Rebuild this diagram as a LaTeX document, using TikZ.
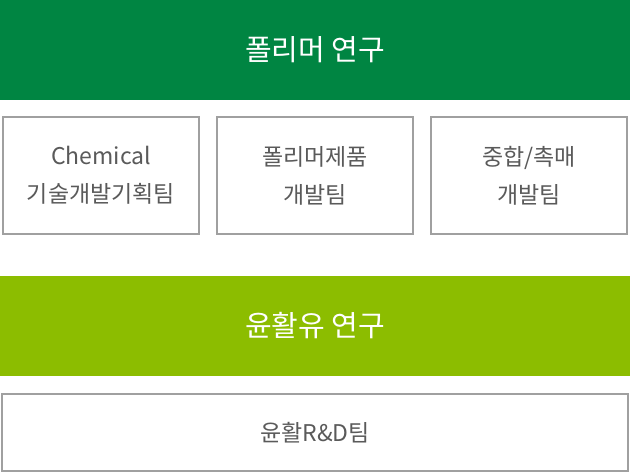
\documentclass[tikz,border=0pt]{standalone}
\usepackage{fontspec}
\usepackage{xcolor}
\setmainfont{Noto Sans CJK KR}
\usetikzlibrary{positioning}

\definecolor{polygreen}{HTML}{008542}
\definecolor{lubegreen}{HTML}{8CBD00}
\definecolor{boxgray}{HTML}{A0A0A0}
\definecolor{textgray}{HTML}{5A5A5A}

\begin{document}
\begin{tikzpicture}[
        x=1pt, y=1pt,
        every node/.style={outer sep=0pt, inner sep=0pt, align=center},
        topbar/.style={
            rectangle, minimum width=630pt, minimum height=100pt,
            text=white, font=\fontsize{29}{34}\selectfont
        },
        teambox/.style={
            rectangle, draw=boxgray, line width=2pt, fill=white,
            minimum width=196pt, minimum height=117pt,
            text=textgray, font=\fontsize{23}{38}\selectfont
        }
    ]
        \useasboundingbox (0,0) rectangle (630,-472);

        % Polymer research
        \node[topbar, fill=polygreen] (poly) at (315,-50) {폴리머 연구};
        \node[teambox] (polyteam) at (315,-175.5) {폴리머제품\\개발팀};
        \node[teambox, left=18pt of polyteam] (chemteam) {Chemical\\기술개발기획팀};
        \node[teambox, right=18pt of polyteam] (catteam) {중합/촉매\\개발팀};

        % Lubricant research
        \node[topbar, fill=lubegreen, below=42pt of polyteam] (lube) {윤활유 연구};
        \node[teambox, minimum width=626pt, minimum height=77pt,
              below=18pt of lube] (lubeteam) {윤활R\&D팀};

    \end{tikzpicture}
\end{document}
